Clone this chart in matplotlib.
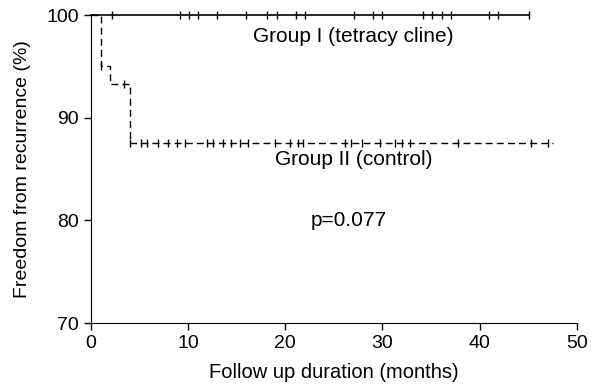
import matplotlib.pyplot as plt
import numpy as np

plt.rcParams['font.family'] = ['Liberation Sans', 'DejaVu Sans']

# Group I (tetracycline): no events, survival stays at 100
g1_times = [0, 45.1]
g1_surv = [100, 100]
g1_censor = [2.2, 9.2, 10.1, 11.0, 13.0, 16.0, 18.1, 19.1, 21.1, 22.0,
             27.1, 29.0, 29.9, 34.2, 35.1, 36.1, 37.1, 41.0, 41.9, 45.1]

# Group II (control): step function
g2_times = [0, 1.0, 2.0, 4.0, 47.6]
g2_surv = [100, 95.0, 93.3, 87.5, 87.5]
g2_censor = [1.0, 3.4, 4.0, 5.1, 5.8, 6.9, 7.9, 8.8, 9.7, 11.9, 12.6, 13.6,
             14.4, 15.3, 16.2, 18.9, 20.5, 21.3, 21.8, 26.1, 26.8, 27.9,
             29.7, 31.3, 32.0, 32.8, 37.8, 45.3, 47.0]


def surv_at(times, surv, t):
    idx = np.searchsorted(times, t, side='right') - 1
    return np.array(surv)[idx]


fig = plt.figure(figsize=(5.91, 3.87), dpi=100)
ax = fig.add_axes([0.154, 0.165, 0.822, 0.796])

ax.step(g1_times, g1_surv, where='post', color='black', lw=1.2, clip_on=False)
ax.step(g2_times, g2_surv, where='post', color='black', lw=1.0,
        linestyle=(0, (5, 3)), clip_on=False)

ax.plot(g1_censor, surv_at(g1_times, g1_surv, g1_censor), linestyle='none',
        marker='|', color='black', ms=6, mew=1.0, clip_on=False)
ax.plot(g2_censor, surv_at(g2_times, g2_surv, g2_censor), linestyle='none',
        marker='|', color='black', ms=6, mew=1.0, clip_on=False)

ax.text(27.0, 97.9, 'Group I (tetracy cline)', fontsize=15, ha='center', va='center')
ax.text(27.0, 85.9, 'Group II (control)', fontsize=15, ha='center', va='center')
ax.text(26.5, 80.0, 'p=0.077', fontsize=15, ha='center', va='center')

ax.set_xlim(0, 50)
ax.set_ylim(70, 100)
ax.set_xticks([0, 10, 20, 30, 40, 50])
ax.set_yticks([70, 80, 90, 100])
ax.spines['top'].set_visible(False)
ax.spines['right'].set_visible(False)
ax.tick_params(labelsize=14, length=5, width=1, direction='out')
ax.set_xlabel('Follow up duration (months)', fontsize=14.5, labelpad=8)
ax.set_ylabel('Freedom from recurrence (%)', fontsize=14, labelpad=11)

fig.savefig('out.png', dpi=100)
